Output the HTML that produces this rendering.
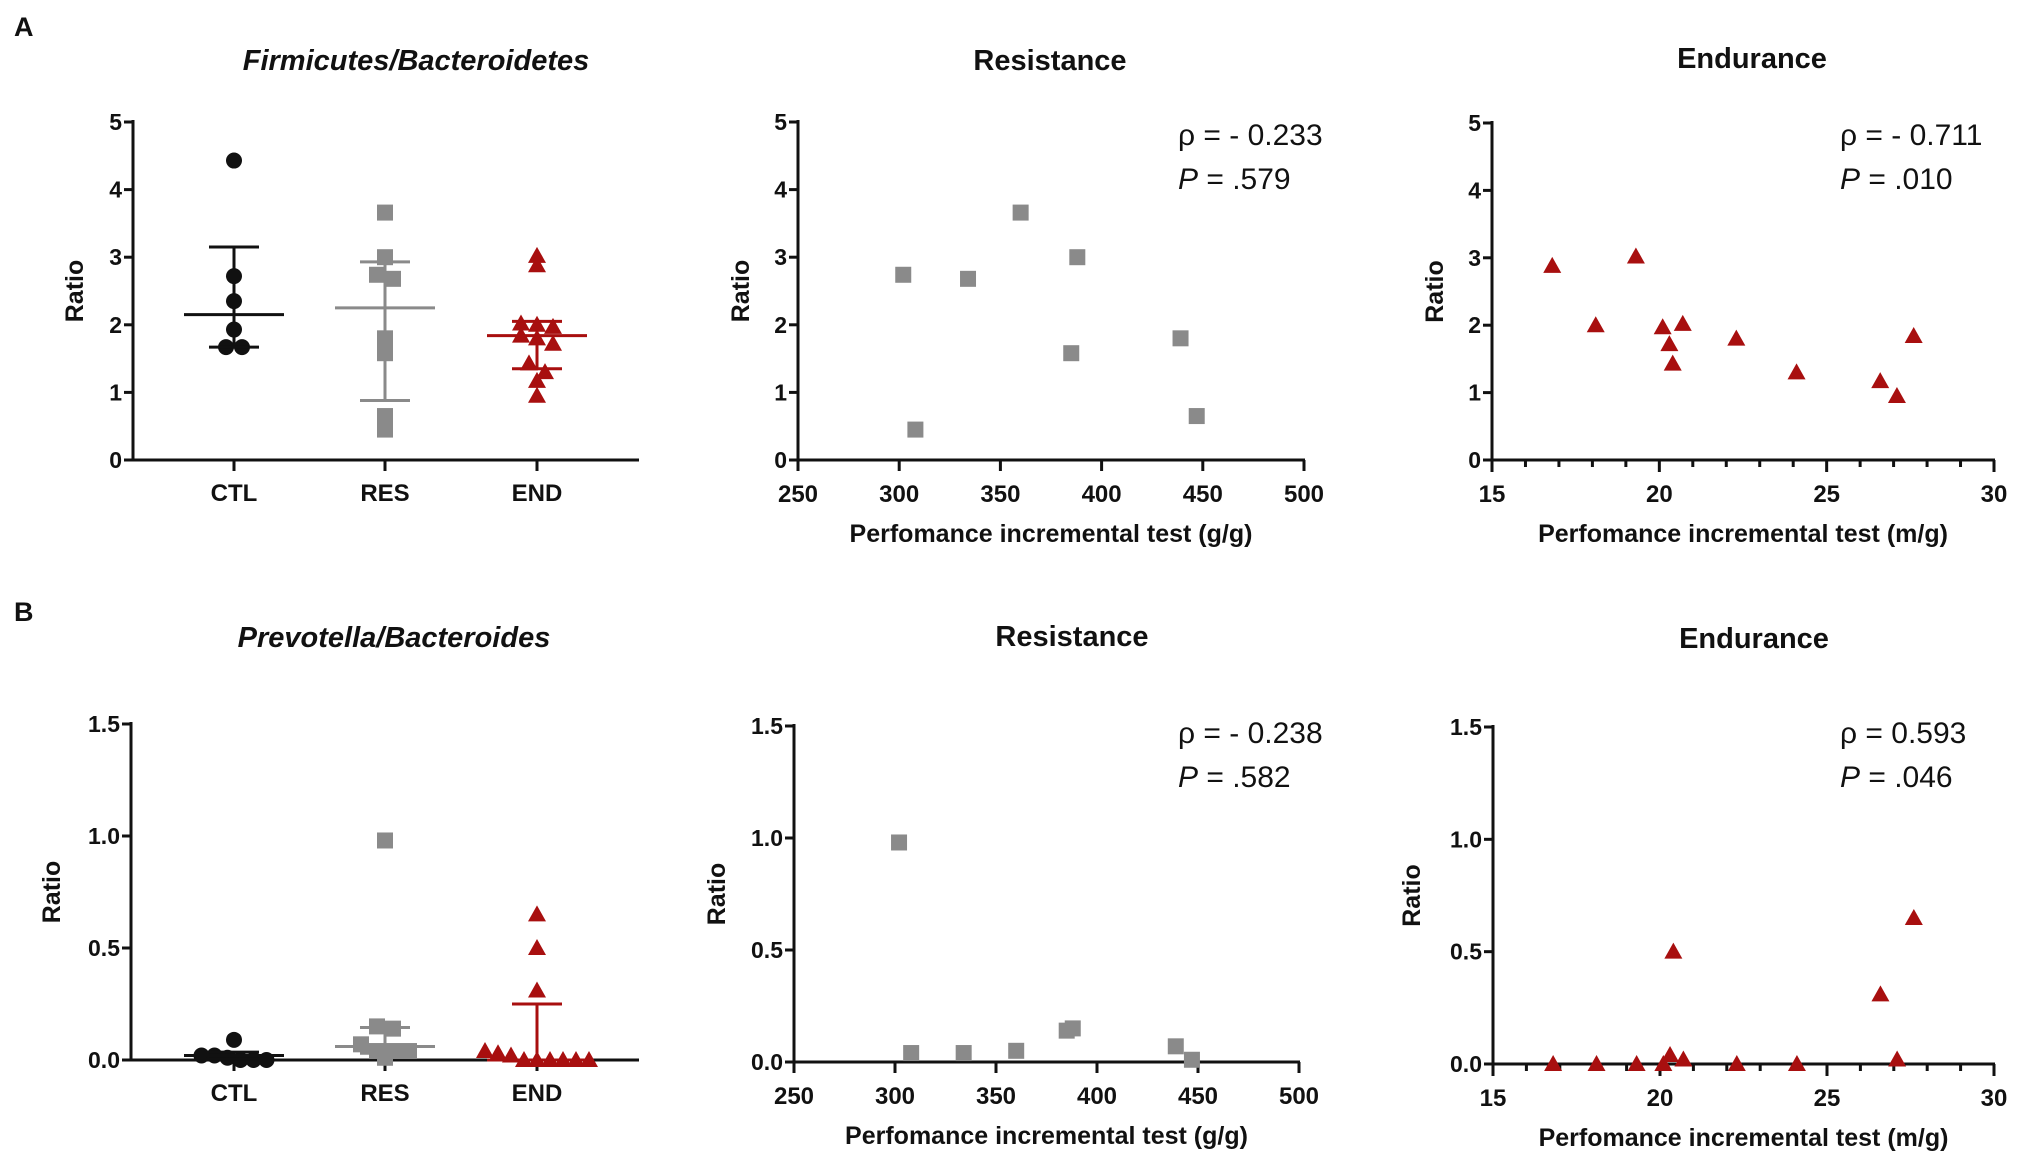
<!DOCTYPE html>
<html><head><meta charset="utf-8"><style>
html,body{margin:0;padding:0;background:#fff;}
svg{display:block;font-family:"Liberation Sans",Arial,sans-serif;}
</style></head><body>
<svg id="fig" width="2017" height="1158" viewBox="0 0 2017 1158" xmlns="http://www.w3.org/2000/svg"></svg>
<script>
// ---- data ----
const groupCats = ["CTL","RES","END"];
const fbCTL = [4.43,2.72,2.35,1.93,1.67,1.67];
const fbRES = [3.66,3.0,2.74,2.68,1.8,1.58,0.65,0.45];
const fbEND = [3.02,2.88,2.02,2.0,1.97,1.84,1.8,1.72,1.43,1.3,1.17,0.95];
const fbMean = [2.15,2.25,1.84];
const fbUpper = [3.15,2.93,2.05];
const fbLower = [1.67,0.88,1.35];
const pbCTL = [0.09,0.0,0.01,0.02,0.02,0.0,0.0];
const pbRES = [0.98,0.15,0.14,0.07,0.04,0.04,0.04,0.01];
const pbEND = [0.65,0.5,0.31,0.04,0.03,0.02,0,0,0,0,0,0];
const pbMean = [0.02,0.06,0.0];
const pbUpper = [0.035,0.145,0.25];
const pbLower = [0.005,0.03,0.0];
const resX = [302,308,334,360,385,388,439,447];
const resFB = [2.74,0.45,2.68,3.66,1.58,3.0,1.8,0.65];
const resPB = [0.98,0.04,0.04,0.05,0.14,0.15,0.07,0.01];
const endX = [16.8,18.1,19.3,20.1,20.3,20.4,20.7,22.3,24.1,26.6,27.1,27.6];
const endFB = [2.88,2.0,3.02,1.97,1.72,1.43,2.02,1.8,1.3,1.17,0.95,1.84];
const endPB = [0,0,0,0,0.04,0.5,0.02,0,0,0.31,0.02,0.65];
const yTicksFB = ["0","1","2","3","4","5"];
const yTicksPB = ["0.0","0.5","1.0","1.5"];
const xTicksRes = ["250","300","350","400","450","500"];
const xTicksEnd = ["15","20","25","30"];

const NS="http://www.w3.org/2000/svg";
const svg=document.getElementById('fig');
const BLACK="#111", GRAY="#8a8a8a", RED="#a80f0f";
function el(tag,attrs,parent){const e=document.createElementNS(NS,tag);for(const k in attrs)e.setAttribute(k,attrs[k]);(parent||svg).appendChild(e);return e;}
function txt(s,x,y,size,opts,parent){const t=el('text',Object.assign({x:x,y:y,'font-size':size,fill:'#111'},opts||{}),parent);t.textContent=s;return t;}

function marker(g,shape,cx,cy,color){
  let m;
  if(shape==='circle') m=el('circle',{cx:cx,cy:cy,r:8,fill:color},g);
  else if(shape==='square') m=el('rect',{x:cx-8,y:cy-8,width:16,height:16,fill:color},g);
  else m=el('polygon',{points:`${cx},${cy-9} ${cx+9},${cy+7} ${cx-9},${cy+7}`,fill:color},g);
  return m;
}

function yAxis(g,x0,y0,y1,ticks,vmax){
  const ys=v=>y0-(v/vmax)*(y0-y1);
  const ax=el('line',{x1:x0,y1:y0,x2:x0,y2:y1-2,stroke:BLACK,'stroke-width':3},g);
  
  ticks.forEach(t=>{const v=parseFloat(t);const y=ys(v);
    el('line',{x1:x0-9,y1:y,x2:x0,y2:y,stroke:BLACK,'stroke-width':3},g);
    const l=txt(t,x0-11,y+8,23,{'font-weight':'bold','text-anchor':'end'},g);
    
  });
  return ys;
}

function dotPanel(o){
  const g=el('g',{});
  
  const ys=yAxis(g,o.x0,o.y0,o.y1,o.yticks,o.vmax);
  el('line',{x1:o.x0,y1:o.y0,x2:o.xEnd,y2:o.y0,stroke:BLACK,'stroke-width':3},g);
  const shapes=['circle','square','tri'], cols=[BLACK,GRAY,RED];
  o.groups.forEach((vals,i)=>{
    const cx=o.cats[i];
    el('line',{x1:cx,y1:o.y0,x2:cx,y2:o.y0+11,stroke:BLACK,'stroke-width':3},g);
    const cl=txt(groupCats[i],cx,o.y0+41,24,{'font-weight':'bold','text-anchor':'middle'},g);
    
    const pts=vals.map(v=>({v:v,y:ys(v)})).sort((a,b)=>a.y-b.y);
    const groups=[];pts.forEach(p=>{const last=groups[groups.length-1];if(last&&p.y-last[0].y<9)last.push(p);else groups.push([p]);});
    const mg=el('g',{},g);
    groups.forEach(gr=>{const n=gr.length;gr.forEach((p,k)=>{
      const dx=(k-(n-1)/2)*(n>4?13:16);
      const m=marker(mg,shapes[i],cx+dx,p.y,cols[i]);
      
    });});
    const eg=el('g',{stroke:cols[i],'stroke-width':3},g);
    
    const ym=ys(o.mean[i]),yu=ys(o.upper[i]),yl=ys(o.lower[i]);
    el('line',{x1:cx-50,y1:ym,x2:cx+50,y2:ym},eg);
    el('line',{x1:cx,y1:yu,x2:cx,y2:yl},eg);
    el('line',{x1:cx-25,y1:yu,x2:cx+25,y2:yu},eg);
    el('line',{x1:cx-25,y1:yl,x2:cx+25,y2:yl},eg);
  });
  const yl=txt('Ratio',0,0,25,{'font-weight':'bold','text-anchor':'middle',transform:`translate(${o.ylabX},${(o.y0+o.y1)/2}) rotate(-90)`},g);
  
}

function scatterPanel(o){
  const g=el('g',{});
  
  const ys=yAxis(g,o.x0,o.y0,o.y1,o.yticks,o.vmax);
  const xs=v=>o.x0+(v-o.xmin)/(o.xmax-o.xmin)*(o.x1-o.x0);
  el('line',{x1:o.x0,y1:o.y0,x2:o.x1+1,y2:o.y0,stroke:BLACK,'stroke-width':3},g);
  if(o.minor){for(let v=o.xmin;v<=o.xmax;v+=o.minor){el('line',{x1:xs(v),y1:o.y0,x2:xs(v),y2:o.y0+(o.isMajor(v)?12:7),stroke:BLACK,'stroke-width':3},g);}}
  o.xticks.forEach(t=>{const v=parseFloat(t);const x=xs(v);
    if(!o.minor) el('line',{x1:x,y1:o.y0,x2:x,y2:o.y0+11,stroke:BLACK,'stroke-width':3},g);
    const l=txt(t,x,o.y0+42,24,{'font-weight':'bold','text-anchor':'middle'},g);
    
  });
  const mg=el('g',{},g);
  o.xs.forEach((xv,i)=>{const m=marker(mg,o.shape,xs(xv),ys(o.ys[i]),o.color);
    });
  const xl=txt(o.xlabel,(o.x0+o.x1)/2,o.y0+82,25,{'font-weight':'bold','text-anchor':'middle'},g);
  
  const yl=txt('Ratio',0,0,25,{'font-weight':'bold','text-anchor':'middle',transform:`translate(${o.ylabX},${(o.y0+o.y1)/2}) rotate(-90)`},g);
  
  const s1=txt('ρ = '+o.rho,o.statX,o.statY,30,{},g);
  
  const s2=el('text',{x:o.statX,y:o.statY+44,'font-size':30,fill:'#111'},g);
  
  const ti=el('tspan',{'font-style':'italic'},s2);ti.textContent='P';
  const tr=el('tspan',{},s2);tr.textContent=' = '+o.p;
}

function title(s,x,y,italic,name){const t=txt(s,x,y,29,{'font-weight':'bold','text-anchor':'middle','font-style':italic?'italic':'normal'});
  }
const la=txt('A',14,36,27,{'font-weight':'bold'});
const lb=txt('B',14,621,27,{'font-weight':'bold'});
title('Firmicutes/Bacteroidetes',416,70,true,'title-firmicutes-bacteroidetes');
title('Resistance',1050,70,false,'title-resistance-a');
title('Endurance',1752,68,false,'title-endurance-a');
title('Prevotella/Bacteroides',394,647,true,'title-prevotella-bacteroides');
title('Resistance',1072,646,false,'title-resistance-b');
title('Endurance',1754,648,false,'title-endurance-b');

dotPanel({name:'panel-a-groups',x0:133,y0:460,y1:122,xEnd:639,vmax:5,yticks:yTicksFB,cats:[234,385,537],
  groups:[fbCTL,fbRES,fbEND],mean:fbMean,upper:fbUpper,lower:fbLower,ylabX:83});
scatterPanel({name:'panel-a-resistance',x0:798,x1:1304,y0:460,y1:122,vmax:5,yticks:yTicksFB,xmin:250,xmax:500,
  xticks:xTicksRes,xs:resX,ys:resFB,shape:'square',color:GRAY,xlabel:'Perfomance incremental test (g/g)',ylabX:749,
  rho:'- 0.233',p:'.579',statX:1178,statY:145});
scatterPanel({name:'panel-a-endurance',x0:1492,x1:1994,y0:460,y1:123,vmax:5,yticks:yTicksFB,xmin:15,xmax:30,minor:1,isMajor:v=>v%5===0,
  xticks:xTicksEnd,xs:endX,ys:endFB,shape:'tri',color:RED,xlabel:'Perfomance incremental test (m/g)',ylabX:1443,
  rho:'- 0.711',p:'.010',statX:1840,statY:145});
dotPanel({name:'panel-b-groups',x0:131,y0:1060,y1:724,xEnd:639,vmax:1.5,yticks:yTicksPB,cats:[234,385,537],
  groups:[pbCTL,pbRES,pbEND],mean:pbMean,upper:pbUpper,lower:pbLower,ylabX:60});
scatterPanel({name:'panel-b-resistance',x0:794,x1:1299,y0:1062,y1:726,vmax:1.5,yticks:yTicksPB,xmin:250,xmax:500,
  xticks:xTicksRes,xs:resX,ys:resPB,shape:'square',color:GRAY,xlabel:'Perfomance incremental test (g/g)',ylabX:725,
  rho:'- 0.238',p:'.582',statX:1178,statY:743});
scatterPanel({name:'panel-b-endurance',x0:1493,x1:1994,y0:1064,y1:727,vmax:1.5,yticks:yTicksPB,xmin:15,xmax:30,minor:1,isMajor:v=>v%5===0,
  xticks:xTicksEnd,xs:endX,ys:endPB,shape:'tri',color:RED,xlabel:'Perfomance incremental test (m/g)',ylabX:1420,
  rho:'0.593',p:'.046',statX:1840,statY:743});
</script>
</body></html>
